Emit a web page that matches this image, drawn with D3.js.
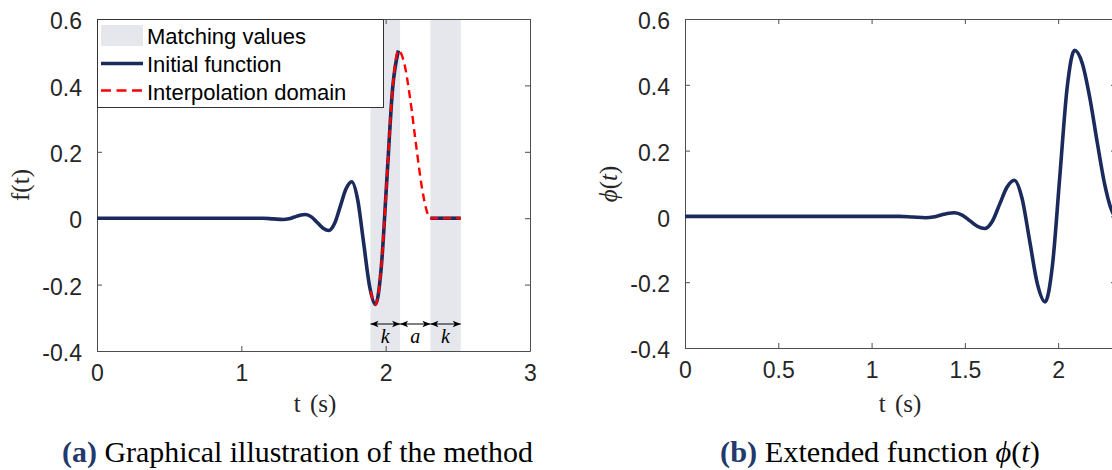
<!DOCTYPE html>
<html><head><meta charset="utf-8">
<script src="https://cdn.jsdelivr.net/npm/d3@7"></script>
<style>body{margin:0;background:#fff;} svg{display:block;}</style>
</head><body><svg id="c" width="1112" height="470"></svg>
<script>
// ---------- data ----------
const tInitial = [0, 0.5, 1.0, 1.15, 1.22, 1.29, 1.329, 1.3675, 1.406, 1.445, 1.4855, 1.526, 1.5665, 1.607, 1.6465, 1.686, 1.7255, 1.765, 1.806, 1.8475, 1.889, 1.93, 1.9695, 2.009, 2.0485, 2.088];
const fInitial = [0, 0, 0, 0, -0.002, -0.004, -0.002, 0.0035, 0.009, 0.011, 0.004, -0.013, -0.030, -0.037, -0.0155, 0.0365, 0.0885, 0.11, 0.056, -0.075, -0.206, -0.26, -0.148, 0.1225, 0.393, 0.505];
const tInterp = [1.895, 1.93, 1.9695, 2.009, 2.0485, 2.088, 2.13, 2.17, 2.21, 2.25, 2.28, 2.30, 2.31, 2.52];
const fInterp = [-0.220, -0.26, -0.148, 0.1225, 0.393, 0.505, 0.464, 0.359, 0.223, 0.0955, 0.029, 0.004, 0, 0];
const tMatchEnd = [2.31, 2.52];
const fMatchEnd = [0, 0];
const matchStart = [1.895, 2.31];
const matchStop = [2.10, 2.52];
const arrowBounds = [1.895, 2.10, 2.31, 2.52];
const arrowLabels = ["k", "a", "k"];
const xTicksA = [0, 1, 2, 3];
const xTicksB = [0, 0.5, 1, 1.5, 2];
const yTicks = [-0.4, -0.2, 0, 0.2, 0.4, 0.6];
const legendLabels = ["Matching values", "Initial function", "Interpolation domain"];

// ---------- style ----------
const NAVY = "#1b2a5c", RED = "#ff0000", SHADE = "#e6e7ec", AXIS = "#4d4d4d", TXT = "#262626";

const svg = d3.select("#c");
const xA = d3.scaleLinear().domain([0, 3]).range([97, 530]);
const yA = d3.scaleLinear().domain([-0.4, 0.6]).range([351, 19]);
const xB = d3.scaleLinear().domain([0, 2.31]).range([685, 1116]);
const yB = d3.scaleLinear().domain([-0.4, 0.6]).range([348, 19]);

const pts = (ts, vs) => ts.map((t, i) => [t, vs[i]]);
const lineGen = (x, y) => d3.line().x(d => x(d[0])).y(d => y(d[1])).curve(d3.curveMonotoneX);

function drawAxes(g, x, y, xt) {
  const [x0, x1] = x.range(), [y0, y1] = y.range();
  const fmt = d => String(d);
  const bot = g.append("g").attr("transform", `translate(0,${y0})`)
    .call(d3.axisBottom(x).tickValues(xt).tickSize(-5).tickSizeOuter(0).tickPadding(14).tickFormat(fmt));
  const top = g.append("g").attr("transform", `translate(0,${y1})`)
    .call(d3.axisTop(x).tickValues(xt).tickSize(-5).tickSizeOuter(0).tickFormat(""));
  const left = g.append("g").attr("transform", `translate(${x0},0)`)
    .call(d3.axisLeft(y).tickValues(yTicks).tickSize(-5).tickSizeOuter(0).tickPadding(15).tickFormat(fmt));
  const right = g.append("g").attr("transform", `translate(${x1},0)`)
    .call(d3.axisRight(y).tickValues(yTicks).tickSize(-5).tickSizeOuter(0).tickFormat(""));
  [bot, top, left, right].forEach(a => {
    a.selectAll("path.domain").attr("stroke", AXIS).attr("stroke-width", 1);
    a.selectAll(".tick line").attr("stroke", AXIS).attr("stroke-width", 1);
    a.selectAll("text").attr("font-family", "Liberation Sans, Arial, sans-serif").attr("font-size", 23).attr("fill", TXT);
  });
  left.selectAll("text").attr("dy", "0.42em");
}

function clip(id, x, y) {
  const [x0, x1] = x.range(), [y0, y1] = y.range();
  svg.append("clipPath").attr("id", id).append("rect")
    .attr("x", x0).attr("y", y1).attr("width", x1 - x0).attr("height", y0 - y1);
}
clip("clipA", xA, yA); clip("clipB", xB, yB);

// ---------- panel (a) ----------
const gA = svg.append("g");
gA.selectAll("rect.shade").data(matchStart).join("rect").attr("class", "shade")
  .attr("x", (d, i) => xA(d)).attr("width", (d, i) => xA(matchStop[i]) - xA(d))
  .attr("y", yA(0.6)).attr("height", yA(-0.4) - yA(0.6)).attr("fill", SHADE);

drawAxes(gA, xA, yA, xTicksA);

const lA = lineGen(xA, yA);
const lines = gA.append("g").attr("clip-path", "url(#clipA)");
lines.append("path").attr("d", lA(pts(tInitial, fInitial))).attr("fill", "none").attr("stroke", NAVY).attr("stroke-width", 3.6).attr("stroke-linejoin", "round");
lines.append("path").attr("d", lA(pts(tMatchEnd, fMatchEnd))).attr("fill", "none").attr("stroke", NAVY).attr("stroke-width", 3.6);
lines.append("path").attr("d", lA(pts(tInterp, fInterp))).attr("fill", "none").attr("stroke", RED).attr("stroke-width", 2.4).attr("stroke-dasharray", "8,5");

// arrows
const ay = 324;
const arr = gA.append("g");
arrowLabels.forEach((lab, i) => {
  const a = xA(arrowBounds[i]), b = xA(arrowBounds[i + 1]);
  arr.append("line").attr("x1", a).attr("x2", b).attr("y1", ay).attr("y2", ay).attr("stroke", "#000").attr("stroke-width", 1);
  arr.append("path").attr("d", `M${a},${ay}L${a + 8},${ay - 3.2}L${a + 6},${ay}L${a + 8},${ay + 3.2}Z`).attr("fill", "#000");
  arr.append("path").attr("d", `M${b},${ay}L${b - 8},${ay - 3.2}L${b - 6},${ay}L${b - 8},${ay + 3.2}Z`).attr("fill", "#000");
  arr.append("text").attr("x", (a + b) / 2).attr("y", 343).attr("text-anchor", "middle")
    .attr("font-family", "Liberation Serif, serif").attr("font-style", "italic").attr("font-size", 20).text(lab);
});

// legend
const lg = gA.append("g");
lg.append("rect").attr("x", 97.5).attr("y", 19.5).attr("width", 286).attr("height", 88).attr("fill", "#fff").attr("stroke", "#333").attr("stroke-width", 1);
lg.append("rect").attr("x", 101).attr("y", 25).attr("width", 42).attr("height", 21).attr("fill", SHADE);
lg.append("line").attr("x1", 101).attr("x2", 143).attr("y1", 63.5).attr("y2", 63.5).attr("stroke", NAVY).attr("stroke-width", 3.6);
lg.append("line").attr("x1", 101).attr("x2", 143).attr("y1", 90.5).attr("y2", 90.5).attr("stroke", RED).attr("stroke-width", 2.4).attr("stroke-dasharray", "10,5.5");
lg.selectAll("text").data(legendLabels).join("text")
  .attr("x", 147).attr("y", (d, i) => 43.5 + i * 28)
  .attr("font-family", "Liberation Sans, Arial, sans-serif").attr("font-size", 22).attr("fill", "#000").text(d => d);

// axis labels (a)
svg.append("text").attr("transform", `translate(29,185) rotate(-90)`).attr("text-anchor", "middle")
  .attr("font-family", "Liberation Serif, serif").attr("font-size", 25).attr("fill", TXT).text("f(t)");
svg.append("text").attr("x", 315).attr("y", 412).attr("text-anchor", "middle")
  .attr("font-family", "Liberation Serif, serif").attr("font-size", 25).attr("fill", TXT).attr("word-spacing", 3).text("t (s)");

// ---------- panel (b) ----------
const gB = svg.append("g");
drawAxes(gB, xB, yB, xTicksB);
const lB = lineGen(xB, yB);
const phi = pts(tInitial, fInitial).concat(pts(tInterp, fInterp).filter(d => d[0] > tInitial[tInitial.length - 1]));
gB.append("g").attr("clip-path", "url(#clipB)").append("path").attr("d", lB(phi))
  .attr("fill", "none").attr("stroke", NAVY).attr("stroke-width", 3.6).attr("stroke-linejoin", "round");

const phiLab = svg.append("text").attr("transform", `translate(617,184) rotate(-90)`).attr("text-anchor", "middle")
  .attr("font-family", "Liberation Serif, serif").attr("font-size", 25).attr("fill", TXT);
phiLab.append("tspan").attr("font-style", "italic").text("\u03D5");
phiLab.append("tspan").text("(");
phiLab.append("tspan").attr("font-style", "italic").text("t");
phiLab.append("tspan").text(")");
svg.append("text").attr("x", 900).attr("y", 412).attr("text-anchor", "middle")
  .attr("font-family", "Liberation Serif, serif").attr("font-size", 25).attr("fill", TXT).attr("word-spacing", 3).text("t (s)");

// ---------- captions ----------
function caption(cx, width, label, rest, extra) {
  const t = svg.append("text").attr("x", cx).attr("y", 462).attr("text-anchor", "middle")
    .attr("font-family", "Liberation Serif, serif").attr("font-size", 24).attr("fill", "#000");
  t.append("tspan").attr("font-weight", "bold").attr("fill", "#23396b").text(label);
  t.append("tspan").text(" " + rest);
  if (extra) extra(t);
  const w = t.node().getComputedTextLength();
  t.attr("font-size", 24 * width / w);
}
caption(297.5, 471, "(a)", "Graphical illustration of the method");
caption(880, 320, "(b)", "Extended function ", t => {
  t.append("tspan").attr("font-style", "italic").text("\u03D5");
  t.append("tspan").text("(");
  t.append("tspan").attr("font-style", "italic").text("t");
  t.append("tspan").text(")");
});
</script></body></html>
